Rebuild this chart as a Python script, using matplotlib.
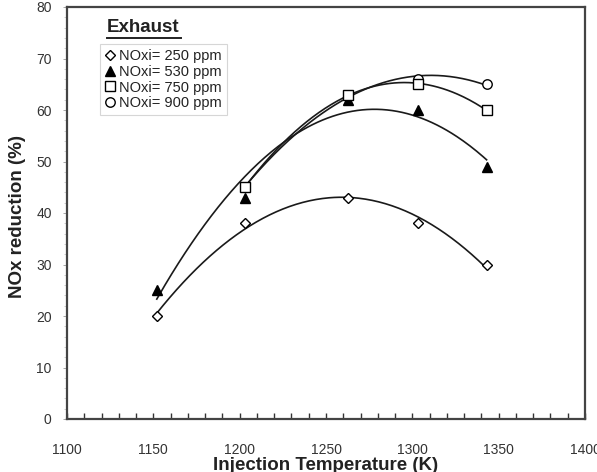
import numpy as np
import matplotlib
matplotlib.use("Agg")
import matplotlib.pyplot as plt
from matplotlib.ticker import MultipleLocator
from matplotlib.lines import Line2D

plt.rcParams['font.family'] = ['Liberation Sans', 'DejaVu Sans']

# Data
temp_250 = [1152, 1203, 1263, 1303, 1343]
nox_250 = [20, 38, 43, 38, 30]
temp_530 = [1152, 1203, 1263, 1303, 1343]
nox_530 = [25, 43, 62, 60, 49]
temp_750 = [1203, 1263, 1303, 1343]
nox_750 = [45, 63, 65, 60]
temp_900 = [1203, 1263, 1303, 1343]
nox_900 = [45, 63, 66, 65]
labels = ["NOxi= 250 ppm", "NOxi= 530 ppm", "NOxi= 750 ppm", "NOxi= 900 ppm"]

W, H = 597, 472
fig = plt.figure(figsize=(W / 100, H / 100), dpi=100)
ax = fig.add_axes([67 / W, 1 - 419 / H, (585 - 67) / W, (419 - 7) / H])

series = [
    (temp_250, nox_250, dict(marker='D', mfc='white', mec='black', ms=5.0, mew=1.0), 4),
    (temp_530, nox_530, dict(marker='^', mfc='black', mec='black', ms=7.0, mew=1.0), 4),
    (temp_750, nox_750, dict(marker='s', mfc='white', mec='black', ms=6.8, mew=1.0), 5),
    (temp_900, nox_900, dict(marker='o', mfc='white', mec='black', ms=6.8, mew=1.0), 3),
]

handles = []
for (t, v, style, z), lab in zip(series, labels):
    t = np.asarray(t, float)
    v = np.asarray(v, float)
    # second-order polynomial trend line through the data
    coef = np.polyfit(t, v, 2)
    tt = np.linspace(t.min(), t.max(), 200)
    ax.plot(tt, np.polyval(coef, tt), color='#1a1a1a', lw=1.2, zorder=2)
    ax.plot(t, v, linestyle='none', zorder=z, **style)
    handles.append(Line2D([], [], linestyle='none', label=lab, **style))

ax.set_xlim(1100, 1400)
ax.set_ylim(0, 80)
ax.xaxis.set_major_locator(MultipleLocator(50))
ax.xaxis.set_minor_locator(MultipleLocator(10))
ax.yaxis.set_major_locator(MultipleLocator(10))
ax.yaxis.set_minor_locator(MultipleLocator(2))

ax.tick_params(axis='x', which='both', direction='in', length=4, width=1.0,
               color='#333333', pad=17, labelsize=10, labelcolor='#333333', top=False)
ax.tick_params(axis='y', which='major', direction='out', length=3, width=0.6,
               color='#999999', pad=8, labelsize=10, labelcolor='#333333', right=False)
ax.tick_params(axis='y', which='minor', direction='out', length=2, width=0.5,
               color='#bbbbbb', right=False)

for s in ax.spines.values():
    s.set_color('#444444')
    s.set_linewidth(1.6)

ax.set_xlabel("Injection Temperature (K)", fontsize=13.5, fontweight='bold', color='#222222')
ax.set_ylabel("NOx reduction (%)", fontsize=13.5, fontweight='bold', color='#222222')
ax.xaxis.set_label_coords(0.5, (419 - 465) / 412)
ax.xaxis.label.set_va('center')
ax.yaxis.set_label_coords((18 - 67) / 518, (419 - 216) / 412)
ax.yaxis.label.set_va('center')

ax.text((107 - 67) / 518, (419 - 28) / 412, "Exhaust", transform=ax.transAxes,
        fontsize=13.5, fontweight='bold', color='#222222', va='center', ha='left')
ax.plot([(107 - 67) / 518, (181 - 67) / 518], [(419 - 37.5) / 412] * 2,
        transform=ax.transAxes, color='#222222', lw=1.4, clip_on=False)

leg = ax.legend(handles=handles, loc='upper left',
                bbox_to_anchor=((100 - 67) / 518, (419 - 44) / 412),
                fontsize=10.5, frameon=True, fancybox=False, handlelength=0.7,
                handletextpad=0.25, labelspacing=0.12, borderpad=0.35,
                borderaxespad=0.0)
leg.get_frame().set_edgecolor('#cccccc')
leg.get_frame().set_linewidth(0.8)
for txt in leg.get_texts():
    txt.set_color('#222222')

fig.savefig("out.png", dpi=100)
